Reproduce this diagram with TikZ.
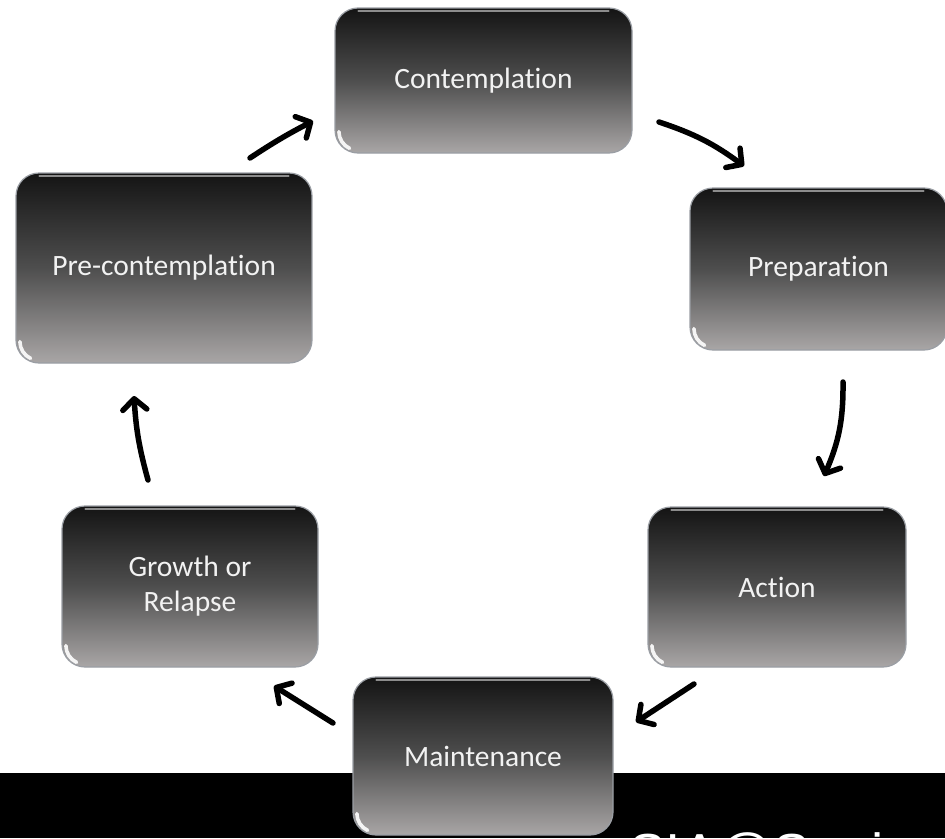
\documentclass[tikz,border=0pt]{standalone}
\usepackage{fontspec}
\setmainfont{Carlito}[Ligatures=NoCommon]
\newfontfamily\wmfont{Liberation Sans}
\usetikzlibrary{arrows.meta}
\definecolor{boxtop}{HTML}{141414}
\definecolor{boxmid}{HTML}{4E4E4E}
\definecolor{boxbot}{HTML}{A9A6A6}
\definecolor{boxedge}{HTML}{9A9EA4}
\definecolor{labeltext}{HTML}{F2F2F2}
\pgfdeclareverticalshading{boxshade}{100bp}{color(0bp)=(boxbot); color(25bp)=(boxbot); color(50bp)=(boxmid); color(75bp)=(boxtop); color(100bp)=(boxtop)}
\tikzset{
  stagebox/.style={rectangle, rounded corners=23pt, shading=boxshade, draw=boxedge,
    line width=1.2pt, text=labeltext, font=\fontsize{29.5}{35}\selectfont,
    align=center, inner sep=0pt},
  cyclearrow/.style={line width=5.5pt, line cap=round, line join=round,
    -{Straight Barb[length=11pt,width=24pt,line cap=round,line join=round]}},
  glint/.style={white, line width=3.6pt, line cap=round, opacity=0.9},
  topsheen/.style={gray!50, line width=2pt, line cap=round, opacity=0.7},
}
\newcommand\glossbox[1]{%
  \draw[glint] ([xshift=4.5pt,yshift=22pt]#1.south west)
     arc[start angle=180, end angle=245, radius=18.5pt];
  \draw[topsheen] ([xshift=24pt,yshift=-4pt]#1.north west) -- ([xshift=-24pt,yshift=-4pt]#1.north east);
}
\begin{document}
\begin{tikzpicture}[x=1pt,y=-1pt]
  \useasboundingbox (0,0) rectangle (945,838);
  \clip (0,0) rectangle (945,838);
  \fill[white] (0,0) rectangle (945,838);
  \fill[black] (0,773) rectangle (945,838);

  \node[anchor=base west, text=white, font=\wmfont\fontsize{55}{60}\selectfont, inner sep=0pt]
    (wm) at (629,872) {SIA@Sonia};

  \node[stagebox, minimum width=297pt, minimum height=145pt] (contemp) at (483.5,80.5) {Contemplation};
  \node[stagebox, minimum width=257pt, minimum height=162pt] (prep) at (818.5,269) {Preparation};
  \node[stagebox, minimum width=258pt, minimum height=160pt] (action) at (777,587) {Action};
  \node[stagebox, minimum width=260pt, minimum height=158pt] (maint) at (483,756) {Maintenance};
  \node[stagebox, minimum width=256pt, minimum height=161pt] (growth) at (190,586.5) {Growth or\\Relapse};
  \node[stagebox, minimum width=296pt, minimum height=190pt] (precon) at (164,268) {Pre-contemplation};

  \glossbox{contemp}
  \glossbox{prep}
  \glossbox{action}
  \glossbox{maint}
  \glossbox{growth}
  \glossbox{precon}

  \coordinate (a1s) at (250,158); \coordinate (a1e) at (313,121);
  \coordinate (a2s) at (659,122); \coordinate (a2e) at (744,166);
  \coordinate (a3s) at (843,382); \coordinate (a3e) at (824,476);
  \coordinate (a4s) at (694,684); \coordinate (a4e) at (636,722);
  \coordinate (a5s) at (333,723); \coordinate (a5e) at (274,686);
  \coordinate (a6s) at (148,480); \coordinate (a6e) at (134,396);

  \draw[cyclearrow] (a1s) to[bend left=3] (a1e);
  \draw[cyclearrow] (a2s) to[bend left=9] (a2e);
  \draw[cyclearrow] (a3s) to[bend left=12] (a3e);
  \draw[cyclearrow] (a4s) -- (a4e);
  \draw[cyclearrow] (a5s) -- (a5e);
  \draw[cyclearrow] (a6s) to[bend left=6] (a6e);
\end{tikzpicture}
\end{document}
